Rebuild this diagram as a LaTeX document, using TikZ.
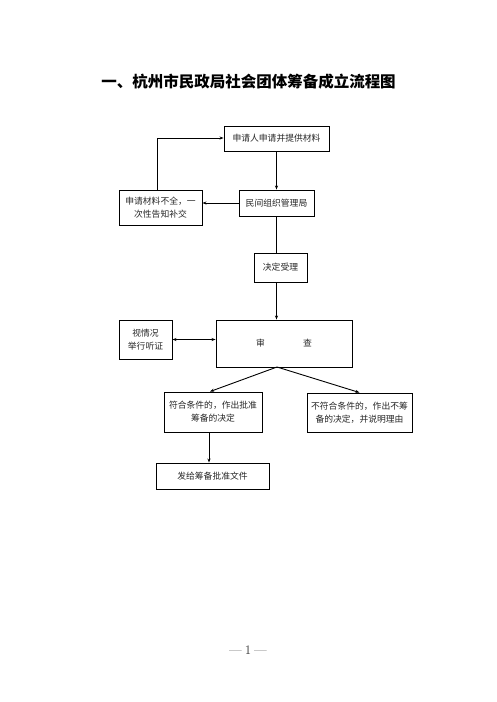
\documentclass[tikz,border=0pt]{standalone}
\usepackage{fontspec}
\newfontfamily\cjk{Noto Sans CJK SC}
\usetikzlibrary{arrows.meta,calc}
\begin{document}
\begin{tikzpicture}[x=1pt,y=-1pt,
  box/.style={draw, line width=0.9pt, rectangle, inner sep=0pt, align=center,
    font=\cjk\fontsize{8.8}{13}\selectfont, text=black!85},
  conn/.style={line width=0.9pt, -{Stealth[length=4pt,width=3pt]}},
  plain/.style={line width=0.9pt}]
\useasboundingbox (0,0) rectangle (496,702);
\node[font=\cjk\bfseries\fontsize{15.5}{18}\selectfont] (title) at (248.5,82) {一、杭州市民政局社会团体筹备成立流程图};
\node[box, minimum width=105, minimum height=25] (top) at (276.5,138.5) {申请人申请并提供材料};
\node[box, minimum width=83, minimum height=35] (bq) at (160.5,207.5) {申请材料不全，一\\次性告知补交};
\node[box, minimum width=75, minimum height=26] (mj) at (276.5,203) {民间组织管理局};
\node[box, minimum width=53, minimum height=29] (jd) at (280.5,267.5) {决定受理};
\node[box, minimum width=136, minimum height=47] (sc) at (284,343.5) {审\hspace{38pt}查};
\node[box, minimum width=53, minimum height=39] (st) at (145.5,339.5) {视情况\\举行听证};
\node[box, minimum width=98, minimum height=40] (fh) at (213,412) {符合条件的，作出批准\\筹备的决定};
\node[box, minimum width=105, minimum height=39] (bf) at (359.5,412.5) {不符合条件的，作出不筹\\备的决定，并说明理由};
\node[box, minimum width=113, minimum height=26] (ff) at (212.5,476) {发给筹备批准文件};
\node[font=\fontsize{13}{15}\selectfont, text=black!80] (pg) at (248,650) {---\hspace{3pt}1\hspace{3pt}---};
\coordinate (scb) at (277,367);
\draw[conn] (top.south) -- (mj.north);
\draw[conn] (mj.west) -- (bq.east |- mj.west);
\draw[conn] ([xshift=-3.5pt]bq.north) |- ([yshift=0.5pt]top.west);
\draw[plain] (mj.south) -- (mj.south |- jd.north);
\draw[conn] (mj.south |- jd.south) -- (mj.south |- sc.north);
\draw[line width=0.9pt, {Stealth[length=4pt,width=3pt]}-{Stealth[length=4pt,width=3pt]}] (st.east) -- (st.east -| sc.west);
\draw[conn] (scb) -- ([xshift=-3pt]fh.north);
\draw[conn] (scb) -- (bf.north);
\draw[conn] ([xshift=-4pt]fh.south) -- ([xshift=-4pt]fh.south |- ff.north);
\end{tikzpicture}
\end{document}
